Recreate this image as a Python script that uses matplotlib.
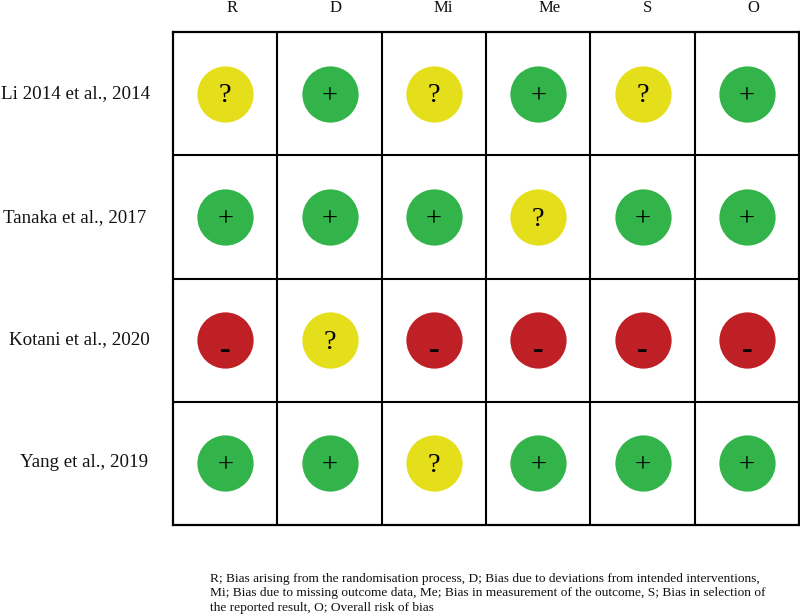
import matplotlib
matplotlib.use("Agg")
import matplotlib.pyplot as plt

plt.rcParams["font.family"] = ["Liberation Serif", "DejaVu Serif"]

domains = ["R", "D", "Mi", "Me", "S", "O"]
studies = ["Li 2014 et al., 2014", "Tanaka et al., 2017", "Kotani et al., 2020", "Yang et al., 2019"]
# one list per study, one judgement per domain
judgements = [
    ["?", "+", "?", "+", "?", "+"],
    ["+", "+", "+", "?", "+", "+"],
    ["-", "?", "-", "-", "-", "-"],
    ["+", "+", "?", "+", "+", "+"],
]
footnote = ("R; Bias arising from the randomisation process, D; Bias due to deviations from intended interventions,\n"
            "Mi; Bias due to missing outcome data, Me; Bias in measurement of the outcome, S; Bias in selection of\n"
            "the reported result, O; Overall risk of bias")

colors = {"+": "#32b44a", "?": "#e4df1a", "-": "#bf2026"}
# glyph styling: size, weight, baseline drop in row units
glyphs = {"+": (20.5, "normal", 0.076), "?": (20.5, "normal", 0.072), "-": (23, "bold", 0.146)}

# labels in the original are placed by hand, so they do not line up exactly
domain_x_px = [232, 336, 443, 550, 648, 753]
study_right_px = [150, 146, 150, 148]
study_base_px = [98, 222, 344, 467]
study_size = [13.7, 13.6, 13.7, 13.6]

W, H = 800, 615
fig = plt.figure(figsize=(8, 6.15), dpi=100)
# grid spans pixels x 173-799, y 32-525
ax = fig.add_axes([173 / W, 1 - 525 / H, 626 / W, 493 / H])
ax.set_xlim(0, len(domains))
ax.set_ylim(len(studies), 0)

for i, row in enumerate(judgements):
    for j, val in enumerate(row):
        ax.scatter(j + 0.5, i + 0.5, s=1640, color=colors[val], linewidths=0, zorder=3)
        size, weight, drop = glyphs[val]
        ax.text(j + 0.5, i + 0.5 + drop, val, fontsize=size, fontweight=weight,
                ha="center", va="baseline", color="black", zorder=4)

ax.set_xticks([])
ax.set_yticks([])
for x in range(1, len(domains)):
    ax.axvline(x, color="black", lw=1.5, zorder=2)
for y in range(1, len(studies)):
    ax.axhline(y, color="black", lw=1.5, zorder=2)
for s in ax.spines.values():
    s.set_linewidth(1.6)

for name, px in zip(domains, domain_x_px):
    fig.text(px / W, 1 - 12 / H, name, fontsize=12, ha="center", va="baseline", color="#111111")
for name, right, base, size in zip(studies, study_right_px, study_base_px, study_size):
    fig.text(right / W, 1 - base / H, name, fontsize=size, ha="right", va="baseline", color="#111111")

# baseline of a multi-line text is the last line's
fig.text(209.5 / W, 1 - 610.5 / H, footnote, fontsize=9.68, ha="left", va="baseline", linespacing=1.27, color="#111111")

fig.savefig("out.png", dpi=100)
